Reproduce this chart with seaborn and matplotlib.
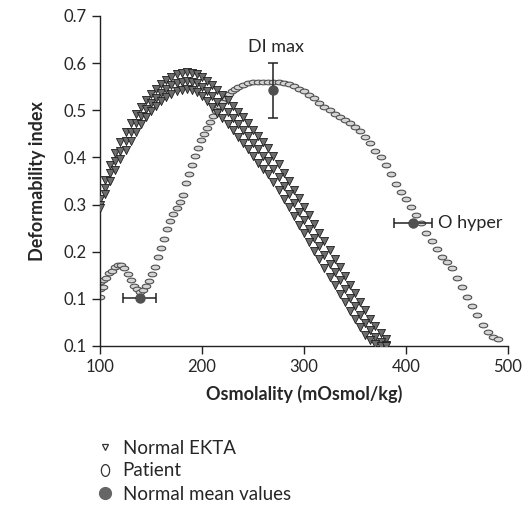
import numpy as np
import pandas as pd
import matplotlib
matplotlib.use("Agg")
import matplotlib.pyplot as plt
from matplotlib.lines import Line2D
import seaborn as sns

# normal EKTA band (three curves read along the band: upper, middle, lower)
normal_osm = [100, 105, 110, 115, 120, 125, 130, 135, 140, 145, 150, 155, 160, 165, 170,
              175, 180, 185, 190, 195, 200, 205, 210, 215, 220, 225, 230, 235, 240, 245,
              250, 255, 260, 265, 270, 275, 280, 285, 290, 295, 300, 305, 310, 315, 320,
              325, 330, 335, 340, 345, 350, 355, 360, 365, 370, 375, 380]
normal_hi = [0.312, 0.352, 0.384, 0.410, 0.433, 0.454, 0.474, 0.492, 0.507, 0.522, 0.535,
             0.546, 0.556, 0.564, 0.571, 0.576, 0.579, 0.581, 0.580, 0.577, 0.571, 0.563,
             0.554, 0.543, 0.532, 0.521, 0.509, 0.497, 0.485, 0.472, 0.458, 0.445, 0.432,
             0.420, 0.404, 0.386, 0.368, 0.350, 0.331, 0.313, 0.295, 0.277, 0.258, 0.240,
             0.222, 0.203, 0.185, 0.167, 0.149, 0.130, 0.112, 0.094, 0.076, 0.058, 0.042,
             0.027, 0.015]
normal_mid = [0.300, 0.336, 0.366, 0.392, 0.414, 0.435, 0.454, 0.472, 0.488, 0.503, 0.516,
              0.527, 0.537, 0.546, 0.553, 0.558, 0.561, 0.563, 0.561, 0.557, 0.550, 0.541,
              0.530, 0.518, 0.507, 0.496, 0.483, 0.470, 0.458, 0.445, 0.430, 0.417, 0.404,
              0.392, 0.376, 0.358, 0.340, 0.322, 0.303, 0.285, 0.267, 0.249, 0.230, 0.212,
              0.194, 0.175, 0.157, 0.139, 0.121, 0.102, 0.084, 0.066, 0.049, 0.033, 0.019,
              0.009, 0.003]
normal_lo = [0.292, 0.322, 0.350, 0.374, 0.396, 0.416, 0.435, 0.453, 0.470, 0.485, 0.498,
             0.509, 0.519, 0.528, 0.535, 0.540, 0.543, 0.545, 0.543, 0.538, 0.530, 0.520,
             0.508, 0.495, 0.483, 0.471, 0.458, 0.444, 0.431, 0.418, 0.403, 0.389, 0.376,
             0.364, 0.348, 0.330, 0.312, 0.294, 0.275, 0.257, 0.239, 0.221, 0.202, 0.184,
             0.166, 0.147, 0.129, 0.111, 0.093, 0.075, 0.057, 0.040, 0.024, 0.012, 0.004,
             0.001, 0.000]

# patient curve
patient_osm = [100, 100, 100, 103, 103, 106, 109, 112, 115, 118, 121, 124, 127, 130, 133,
               136, 139, 142, 145, 148, 151, 154, 157, 160, 163, 166, 169, 172, 175, 178,
               181, 184, 187, 190, 193, 196, 199, 202, 205, 208, 211, 214, 217, 220, 223,
               226, 229, 232, 235, 240, 245, 250, 255, 260, 265, 270, 275, 280, 285, 290,
               295, 300, 305, 310, 315, 320, 325, 330, 335, 340, 345, 350, 355, 360, 365,
               370, 375, 380, 385, 390, 395, 400, 405, 410, 415, 420, 425, 430, 435, 440,
               445, 450, 455, 460, 465, 470, 475, 480, 485, 490]
patient_di = [0.105, 0.120, 0.135, 0.125, 0.140, 0.145, 0.155, 0.160, 0.168, 0.172, 0.172,
              0.165, 0.152, 0.140, 0.128, 0.120, 0.115, 0.118, 0.128, 0.138, 0.152, 0.168,
              0.188, 0.208, 0.228, 0.248, 0.265, 0.280, 0.292, 0.305, 0.320, 0.345, 0.365,
              0.385, 0.402, 0.420, 0.438, 0.450, 0.462, 0.475, 0.488, 0.498, 0.510, 0.518,
              0.527, 0.534, 0.540, 0.545, 0.549, 0.554, 0.558, 0.560, 0.561, 0.561, 0.561,
              0.560, 0.559, 0.557, 0.555, 0.551, 0.546, 0.540, 0.533, 0.525, 0.516, 0.508,
              0.500, 0.493, 0.486, 0.480, 0.474, 0.465, 0.455, 0.443, 0.430, 0.414, 0.400,
              0.383, 0.365, 0.343, 0.327, 0.312, 0.295, 0.278, 0.260, 0.240, 0.222, 0.205,
              0.188, 0.178, 0.165, 0.145, 0.125, 0.105, 0.085, 0.065, 0.045, 0.030, 0.020,
              0.015]

# normal mean values (O min, DI max, O hyper)
mean_osm = [139, 270, 407]
mean_di = [0.102, 0.542, 0.260]
mean_xerr = [16, 0, 18.5]
mean_yerr = [0, 0.058, 0]

y_ticks = [0.0, 0.1, 0.2, 0.3, 0.4, 0.5, 0.6, 0.7]
y_ticklabels = ["0.1", "0.1", "0.2", "0.3", "0.4", "0.5", "0.6", "0.7"]
x_ticks = [100, 200, 300, 400, 500]

normal_df = pd.DataFrame({
    "osm": normal_osm * 3,
    "di": normal_hi + normal_mid + normal_lo,
})
patient_df = pd.DataFrame({"osm": patient_osm, "di": patient_di})

sns.set_style("ticks")
plt.rcParams["font.family"] = ["Lato", "DejaVu Sans"]

fig = plt.figure(figsize=(5.28, 5.08), dpi=100)
ax = fig.add_axes([100 / 528, 1 - 346 / 508, 408 / 528, 330 / 508])

t = np.linspace(0, 2 * np.pi, 30)
flat_oval = np.column_stack([np.cos(t), 0.55 * np.sin(t)])
tall_oval = np.column_stack([0.7 * np.cos(t), np.sin(t)])

sns.scatterplot(data=patient_df, x="osm", y="di", marker=flat_oval, s=38,
                color="#d4d4d4", edgecolor="#505050", linewidth=0.8, ax=ax,
                legend=False, zorder=2)
sns.scatterplot(data=normal_df, x="osm", y="di", marker="v", s=34,
                color="#6c6c6c", edgecolor="#1e1e1e", linewidth=0.6, ax=ax,
                legend=False, zorder=3)
ax.errorbar(mean_osm, mean_di, xerr=mean_xerr, yerr=mean_yerr, fmt="o",
            color="#505050", ecolor="#222222", markersize=6.5, elinewidth=1.1,
            capsize=3.5, capthick=1.1, zorder=4)

ax.text(273, 0.6 + 0.018, "DI max", ha="center", va="bottom", fontsize=13)
ax.text(431, 0.26, "O hyper", ha="left", va="center", fontsize=13)

ax.set_xlim(100, 500)
ax.set_ylim(0, 0.7)
ax.set_xticks(x_ticks)
ax.set_yticks(y_ticks)
ax.set_yticklabels(y_ticklabels)
ax.tick_params(axis="both", labelsize=12, length=6, width=1, color="#222222")
ax.set_xlabel("Osmolality (mOsmol/kg)", fontsize=13, fontweight="bold", labelpad=7)
ax.set_ylabel("Deformability index", fontsize=13, fontweight="bold", labelpad=13)
for side in ["top", "right"]:
    ax.spines[side].set_visible(False)
for side in ["left", "bottom"]:
    ax.spines[side].set_color("#222222")
    ax.spines[side].set_linewidth(1)

handles = [
    Line2D([], [], linestyle="none", marker="v", markersize=5,
           markerfacecolor="white", markeredgecolor="#333333", markeredgewidth=0.9),
    Line2D([], [], linestyle="none", marker=tall_oval, markersize=8.5,
           markerfacecolor="white", markeredgecolor="#333333", markeredgewidth=0.9),
    Line2D([], [], linestyle="none", marker="o", markersize=8.5,
           markerfacecolor="#666666", markeredgecolor="#666666"),
]
labels = ["Normal EKTA", "Patient", "Normal mean values"]
fig.legend(handles, labels, loc="upper left", bbox_to_anchor=(88 / 528, 1 - 432 / 508),
           frameon=False, fontsize=13.5, handlelength=1.0, handletextpad=0.45,
           labelspacing=0.32, borderaxespad=0)

fig.savefig("out.png", dpi=100)
